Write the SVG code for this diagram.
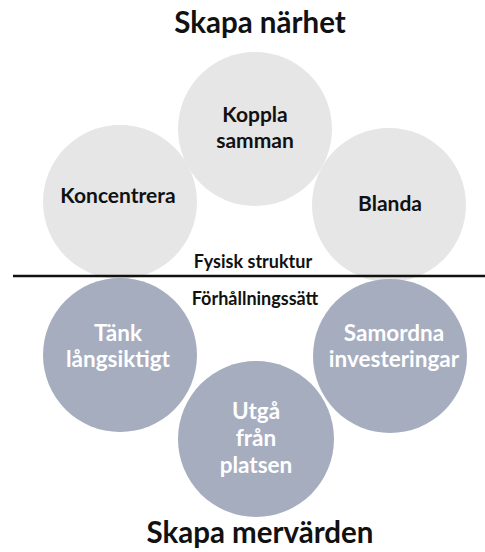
<svg xmlns="http://www.w3.org/2000/svg" width="485" height="552" viewBox="0 0 485 552">
<style>
text{font-family:Lato,"Open Sans","Liberation Sans",sans-serif;font-weight:700;text-anchor:middle}
.t{font-size:29.5px;fill:#111}
.l{font-size:21px;fill:#111}
.w{font-size:22.5px;fill:#ffffff}
.s{font-size:18px;fill:#111}
.g{fill:#e6e6e6}
.b{fill:#a5adbf}
</style>
<rect width="485" height="552" fill="#ffffff"/>
<text class="t" x="260" y="33">Skapa närhet</text>
<g id="koncentrera"><circle class="g" cx="120" cy="202" r="77"/><text class="l" x="118" y="203">Koncentrera</text></g>
<g id="blanda"><circle class="g" cx="389" cy="205" r="77"/><text class="l" x="390" y="211">Blanda</text></g>
<g id="koppla"><circle class="g" cx="255" cy="129" r="77"/><text class="l" x="255" y="122">Koppla</text><text class="l" x="255" y="148">samman</text></g>
<g id="tank"><circle class="b" cx="120" cy="355" r="77"/><text class="w" x="118" y="341">Tänk</text><text class="w" x="118" y="367">långsiktigt</text></g>
<g id="samordna"><circle class="b" cx="390" cy="356" r="77"/><text class="w" x="394" y="341">Samordna</text><text class="w" x="394" y="367">investeringar</text></g>
<g id="utga"><circle class="b" cx="256" cy="439" r="78"/><text class="w" x="256" y="419">Utgå</text><text class="w" x="256" y="446">från</text><text class="w" x="256" y="473">platsen</text></g>
<g id="connectors"><line x1="13" y1="276" x2="485" y2="276" stroke="#111" stroke-width="2.5"/></g>
<text class="s" x="253" y="268">Fysisk struktur</text>
<text class="s" x="255" y="305">Förhållningssätt</text>
<text class="t" x="260" y="543">Skapa mervärden</text>
</svg>
